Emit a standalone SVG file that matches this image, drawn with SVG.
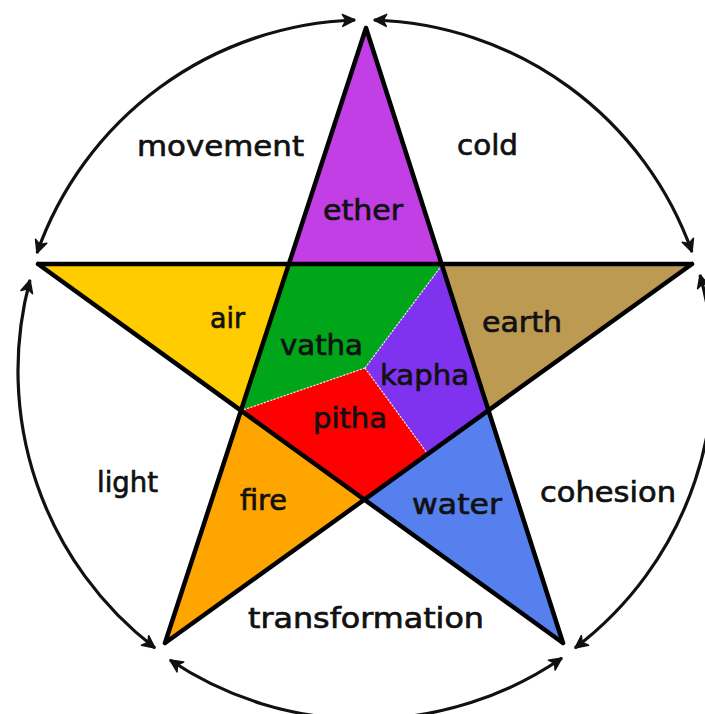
<svg xmlns="http://www.w3.org/2000/svg" width="705" height="714" viewBox="0 0 705 714">
<style>
.lbl{font-family:"DejaVu Sans","Liberation Sans",sans-serif;font-size:29px;fill:#111;stroke:#111;stroke-width:0.7;}
.arc{fill:none;stroke:#111;stroke-width:3.2;marker-start:url(#ah);marker-end:url(#ah);}
.div{fill:none;stroke:#e8e8e8;stroke-width:1.2;stroke-dasharray:2 1.5;}
.star{fill:none;stroke:#000;stroke-width:4.5;stroke-linejoin:miter;stroke-linecap:round;}
</style>
<defs>
<marker id="ah" markerUnits="userSpaceOnUse" viewBox="0 0 16 16" markerWidth="16" markerHeight="16" refX="14" refY="8" orient="auto-start-reverse">
<path d="M1.5,2 L14,8 L1.5,14 L5,8 Z" fill="#111" stroke="#111" stroke-width="1.5" stroke-linejoin="round"/>
</marker>
</defs>
<rect width="705" height="714" fill="#fff"/>
<g id="ether"><polygon points="366,28 442,265 289,265" fill="#C23FE6"/><text class="lbl" x="323" y="220" textLength="80" lengthAdjust="spacingAndGlyphs">ether</text></g>
<g id="earth"><polygon points="442,265 692,264 488,410" fill="#BD9A52"/><text class="lbl" x="482" y="332" textLength="80" lengthAdjust="spacingAndGlyphs">earth</text></g>
<g id="water"><polygon points="488,410 563,643 364,500" fill="#5580EE"/><text class="lbl" x="412" y="514" textLength="90" lengthAdjust="spacingAndGlyphs">water</text></g>
<g id="fire"><polygon points="364,500 165,643 243,410" fill="#FFA500"/><text class="lbl" x="240" y="510" textLength="47" lengthAdjust="spacingAndGlyphs">fire</text></g>
<g id="air"><polygon points="243,410 38,264 289,265" fill="#FFCC00"/><text class="lbl" x="210" y="328" textLength="35" lengthAdjust="spacingAndGlyphs">air</text></g>
<g id="vatha"><polygon points="289,265 442,265 365,368 243,410" fill="#00A51A"/><text class="lbl" x="280" y="355" textLength="83" lengthAdjust="spacingAndGlyphs">vatha</text></g>
<g id="kapha"><polygon points="442,265 488,410 427,453 365,368" fill="#7F33EE"/><text class="lbl" x="380" y="385" textLength="89" lengthAdjust="spacingAndGlyphs">kapha</text></g>
<g id="pitha"><polygon points="243,410 365,368 427,453 364,500" fill="#FF0000"/><text class="lbl" x="313" y="428" textLength="74" lengthAdjust="spacingAndGlyphs">pitha</text></g>
<g id="dividers">
<path class="div" d="M365,368 L442,265 M365,368 L243,410 M365,368 L427,453"/>
</g>
<g id="star">
<path class="star" d="M366,28 L165,643 M366,28 L563,643 M38,264 L692,264 M38,264 L563,643 M692,264 L165,643"/>
</g>
<g id="connectors">
<path class="arc" d="M37,253 A349,349 0 0 1 355,20"/>
<path class="arc" d="M374,20 A349,349 0 0 1 692,252"/>
<path class="arc" d="M700,275 A349,349 0 0 1 575,648"/>
<path class="arc" d="M562,658 A349,349 0 0 1 170,660"/>
<path class="arc" d="M155,648 A349,349 0 0 1 30,280"/>
</g>
<g id="movement"><text class="lbl" x="137" y="156" textLength="167" lengthAdjust="spacingAndGlyphs">movement</text></g>
<g id="cold"><text class="lbl" x="457" y="155" textLength="61" lengthAdjust="spacingAndGlyphs">cold</text></g>
<g id="light"><text class="lbl" x="97" y="492" textLength="61" lengthAdjust="spacingAndGlyphs">light</text></g>
<g id="cohesion"><text class="lbl" x="540" y="502" textLength="136" lengthAdjust="spacingAndGlyphs">cohesion</text></g>
<g id="transformation"><text class="lbl" x="248" y="628" textLength="236" lengthAdjust="spacingAndGlyphs">transformation</text></g>
</svg>
